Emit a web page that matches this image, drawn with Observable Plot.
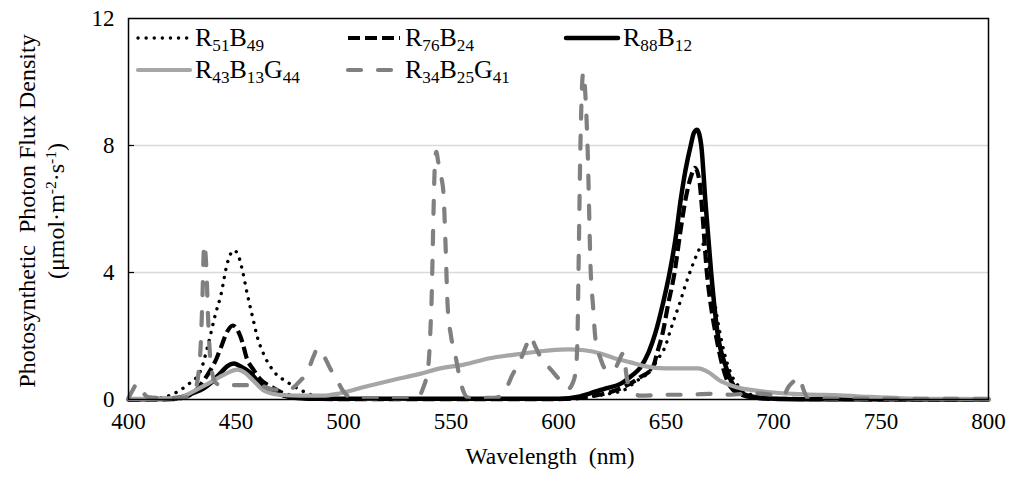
<!DOCTYPE html>
<html>
<head>
<meta charset="utf-8">
<script src="https://cdn.jsdelivr.net/npm/d3@7"></script>
<script src="https://cdn.jsdelivr.net/npm/@observablehq/plot@0.6"></script>
<style>
  body { margin: 0; background: #fff; font-family: "Liberation Serif", "Times New Roman", "DejaVu Serif", serif; }
  #wrap { position: relative; width: 1009px; height: 477px; font-family: "Liberation Serif", "Times New Roman", "DejaVu Serif", serif; color: #000; }
  #wrap svg.chart { position: absolute; left: 0; top: 0; }
  .leg { position: absolute; display: flex; align-items: center; font-size: 26px; white-space: nowrap; line-height: 1; }
  .leg svg { margin-right: 2px; }
  .leg sub { font-size: 0.66em; vertical-align: -0.3em; line-height: 0; }
  .ytitle { position: absolute; width: 480px; text-align: center; font-size: 24px; line-height: 29px; white-space: pre; transform: rotate(-90deg); transform-origin: 50% 50%; }
  .ytitle sup { font-size: 0.65em; vertical-align: 0.5em; line-height: 0; }
  .xtitle { position: absolute; font-size: 23.5px; white-space: pre; transform: translate(-50%, -50%); }
</style>
</head>
<body>
<div id="wrap"></div>
<script>
// ---- Data ----
const xTicks = [400, 450, 500, 550, 600, 650, 700, 750, 800];
const yTicks = [0, 4, 8, 12];
const gridTicks = [4, 8];

const R51B49_wl = [400,410,415,420,427,433.5,436.7,440.5,443,446,449,451,453,455.3,457.7,460,462.8,467.4,474,478.6,485,492,500,520,560,600,615,625,630,636.7,641.4,646.5,649.8,652,654.4,656.7,659,661.4,664.6,667,669,671,674,677,681,686,692,700,720,800];
const R51B49_pf = [0,0.02,0.05,0.15,0.44,0.9,1.64,2.7,3.3,4.3,4.7,4.55,4.06,3.3,2.6,1.95,1.44,0.9,0.54,0.35,0.15,0.05,0.02,0.01,0.01,0.02,0.1,0.2,0.28,0.6,0.82,1.3,1.7,2.17,2.65,3.1,3.6,4.06,4.6,4.9,4.6,3.8,2.5,1.5,0.7,0.3,0.1,0.03,0.01,0];

const R76B24_wl = [400,420,425,430,436,441,443,446,448.5,451,453,455,458,461,467,472,478,485,500,600,615,625,632,638,643.8,646,648.4,651,654,656.5,659,661.5,663.5,665.5,667,669,671,673,676.5,680,685,692,700,800];
const R76B24_pf = [0,0.01,0.05,0.2,0.7,1.3,1.64,2.15,2.33,2.15,1.8,1.3,0.95,0.66,0.38,0.2,0.08,0.02,0.01,0.01,0.1,0.25,0.45,0.7,1.0,1.5,2.08,3.0,4.0,5.2,6.27,7.0,7.3,6.9,5.8,4.0,2.9,2.1,1.0,0.4,0.15,0.05,0.02,0];

const R88B12_wl = [400,420,425,430,435,438,443,446,449,452,457,461,466,470,475,480,490,600,610,615,622,629,634,638,642,645,648.5,651.7,654.5,656.8,659,661.5,663,664.5,665.5,666.4,668.3,671,674,678,682,687,695,710,800];
const R88B12_pf = [0,0.02,0.08,0.2,0.35,0.5,0.85,1.05,1.13,1.05,0.82,0.5,0.3,0.18,0.08,0.04,0.02,0.02,0.1,0.2,0.35,0.5,0.75,1.0,1.5,2.08,3.0,4.0,5.1,6.27,7.2,8.0,8.4,8.5,8.35,8.0,6.27,4.0,2.08,1.0,0.38,0.15,0.05,0.01,0];

const R43B13G44_wl = [400,415,424,430,437,445,450.7,454,458,463,470,480,490,498,510,522,535,545,556,568,578,587,596,605,612,619.5,626,633.5,640,650,665,670,675,680,685,692,700,715,731,745,760,780,800];
const R43B13G44_pf = [0.02,0.03,0.06,0.25,0.5,0.8,0.94,0.85,0.6,0.28,0.15,0.12,0.12,0.19,0.4,0.6,0.8,0.98,1.1,1.3,1.4,1.48,1.55,1.58,1.55,1.45,1.3,1.17,1.05,0.98,0.98,0.85,0.6,0.45,0.35,0.28,0.22,0.16,0.13,0.08,0.04,0.02,0.01];

const R34B25G41_wl = [400,402,404,406,409,415,425,429,431,432.5,433.5,434.3,435.2,436.3,437,437.8,439,441,443,455,462,467,472,476,480,483,486,488,491,494,497,500,504,520,534,536.7,539.5,540.5,541,541.4,541.9,542.5,543.2,544,545.5,546.5,547.4,548.4,550,552,554,555.8,558,570,574,576,578,582,585,587,589,592,594,597,599.5,602,604.7,606.5,608,608.8,609.3,610.2,611.5,612.5,613.5,615,616,617.2,619.5,622,625.6,628,630,632,634,638,650,660,670,680,690,700,704.6,707,709,712,714,716,730,800];
const R34B25G41_pf = [0.05,0.3,0.5,0.3,0.08,0.05,0.05,0.15,0.3,0.8,1.6,3.0,4.9,4.0,2.6,1.5,0.8,0.5,0.45,0.45,0.42,0.32,0.3,0.35,0.6,0.82,1.35,1.6,1.35,0.95,0.6,0.25,0.06,0.03,0.05,0.3,1.1,2.3,3.2,4.4,6.0,7.4,7.8,7.5,7.0,6.5,5.0,3.0,2.0,1.4,0.7,0.25,0.06,0.05,0.15,0.38,0.7,1.2,1.7,2.0,1.7,1.3,1.13,0.9,0.7,0.55,0.35,0.5,0.9,1.86,4.0,8.0,10.3,9.6,8.0,4.0,3.0,1.9,1.3,0.95,0.9,1.2,1.45,0.6,0.3,0.12,0.15,0.15,0.18,0.15,0.2,0.15,0.13,0.4,0.55,0.7,0.3,0.05,0.03,0.02];

// ---- Series styles ----
const series = [
  { key: "R51B49", label: ["R","51","B","49"], wl: R51B49_wl, pf: R51B49_pf, stroke: "#000000", width: 3.4, dash: "0.1 8", cap: "round" },
  { key: "R76B24", label: ["R","76","B","24"], wl: R76B24_wl, pf: R76B24_pf, stroke: "#000000", width: 4.2, dash: "12 5", cap: "butt" },
  { key: "R88B12", label: ["R","88","B","12"], wl: R88B12_wl, pf: R88B12_pf, stroke: "#000000", width: 4.5, dash: null, cap: "round" },
  { key: "R43B13G44", label: ["R","43","B","13","G","44"], wl: R43B13G44_wl, pf: R43B13G44_pf, stroke: "#a6a6a6", width: 4.2, dash: null, cap: "round" },
  { key: "R34B25G41", label: ["R","34","B","25","G","41"], wl: R34B25G41_wl, pf: R34B25G41_pf, stroke: "#808080", width: 4.2, dash: "13 17", cap: "round" }
];

const FONT = "'Liberation Serif', 'Times New Roman', 'DejaVu Serif', serif";

const lineMarks = series.map(s => Plot.line(
  s.wl.map((w, i) => ({ w, v: s.pf[i] })),
  { x: "w", y: "v", stroke: s.stroke, strokeWidth: s.width,
    strokeDasharray: s.dash ?? undefined, strokeLinecap: s.cap, strokeLinejoin: "round",
    curve: "monotone-x" }
));

const chart = Plot.plot({
  width: 1009,
  height: 477,
  marginLeft: 128,
  marginRight: 21,
  marginTop: 18,
  marginBottom: 78,
  style: { fontFamily: FONT, fontSize: "23px", color: "#000", background: "#fff", overflow: "visible" },
  x: { domain: [400, 800] },
  y: { domain: [0, 12] },
  marks: [
    Plot.gridY(gridTicks, { stroke: "#d9d9d9", strokeOpacity: 1, strokeWidth: 1.3 }),
    Plot.axisY(yTicks, { tickSize: 0, tickPadding: 14, label: null, fontSize: 23 }),
    Plot.axisY(gridTicks, { tickSize: -6, tickFormat: () => "", label: null, stroke: "#000", strokeWidth: 1.2 }),
    Plot.axisX(xTicks, { tickSize: 0, tickPadding: 13, label: null, fontSize: 23 }),
    ...lineMarks,
    Plot.frame({ stroke: "#000", strokeWidth: 1.5 })
  ]
});
chart.classList.add("chart");
// make sure every text in the chart uses the serif family
chart.querySelectorAll("text").forEach(t => { t.style.fontFamily = FONT; });
chart.querySelectorAll("g").forEach(g => { g.setAttribute("font-family", FONT); });
const wrap = document.getElementById("wrap");
wrap.appendChild(chart);

// ---- Legend (inside the plot area, two rows) ----
const legendPos = [
  { left: 135, top: 38 }, { left: 345, top: 38 }, { left: 563, top: 38 },
  { left: 135, top: 70 }, { left: 345, top: 70 }
];
series.forEach((s, i) => {
  const d = document.createElement("div");
  d.className = "leg";
  d.style.left = legendPos[i].left + "px";
  d.style.top = (legendPos[i].top - 14) + "px";
  const sw = 58;
  const dash = s.dash ? `stroke-dasharray="${s.dash}"` : "";
  let txt = "";
  for (let k = 0; k < s.label.length; k += 2) txt += s.label[k] + "<sub>" + s.label[k + 1] + "</sub>";
  d.innerHTML = `<svg width="${sw}" height="28"><line x1="3" y1="14" x2="${sw - 3}" y2="14" stroke="${s.stroke}" stroke-width="${s.width}" stroke-linecap="${s.cap}" ${dash}/></svg><span>${txt}</span>`;
  wrap.appendChild(d);
});

// ---- Axis titles ----
const yt = document.createElement("div");
yt.className = "ytitle";
yt.style.left = (42 - 240) + "px";
yt.style.top = (211 - 29) + "px";
yt.innerHTML = "Photosynthetic  Photon Flux Density\n(μmol·m<sup>-2</sup>·s<sup>-1</sup>)";
wrap.appendChild(yt);

const xt = document.createElement("div");
xt.className = "xtitle";
xt.style.left = "550px";
xt.style.top = "456px";
xt.textContent = "Wavelength  (nm)";
wrap.appendChild(xt);
</script>
</body>
</html>
